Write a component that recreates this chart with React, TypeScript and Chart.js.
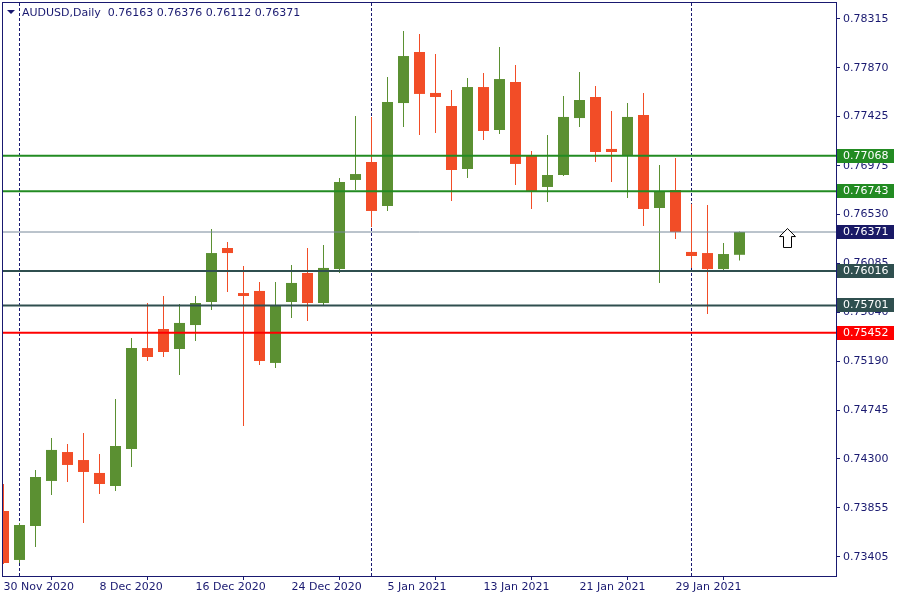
import React, { useEffect, useRef } from "react";
import { Chart, registerables } from "chart.js";

Chart.register(...registerables);

const symbol = "AUDUSD";
const timeframe = "Daily";

const dates = [
  "30 Nov 2020", "1 Dec 2020", "2 Dec 2020", "3 Dec 2020", "4 Dec 2020", "7 Dec 2020", "8 Dec 2020",
  "9 Dec 2020", "10 Dec 2020", "11 Dec 2020", "14 Dec 2020", "15 Dec 2020", "16 Dec 2020", "17 Dec 2020",
  "18 Dec 2020", "21 Dec 2020", "22 Dec 2020", "23 Dec 2020", "24 Dec 2020", "28 Dec 2020", "29 Dec 2020",
  "30 Dec 2020", "31 Dec 2020", "4 Jan 2021", "5 Jan 2021", "6 Jan 2021", "7 Jan 2021", "8 Jan 2021",
  "11 Jan 2021", "12 Jan 2021", "13 Jan 2021", "14 Jan 2021", "15 Jan 2021", "18 Jan 2021", "19 Jan 2021",
  "20 Jan 2021", "21 Jan 2021", "22 Jan 2021", "25 Jan 2021", "26 Jan 2021", "27 Jan 2021", "28 Jan 2021",
  "29 Jan 2021", "1 Feb 2021", "2 Feb 2021", "3 Feb 2021", "4 Feb 2021",
];

const opens = [
  0.73825, 0.73378, 0.73688, 0.74099, 0.74363, 0.7429, 0.74172, 0.74053, 0.74391, 0.75312,
  0.75486, 0.75303, 0.75522, 0.75732, 0.76225, 0.75814, 0.75833, 0.75176, 0.75732, 0.75997,
  0.75723, 0.76033, 0.76846, 0.7701, 0.76608, 0.77548, 0.78014, 0.7764, 0.77521, 0.76946,
  0.77694, 0.77302, 0.7774, 0.77074, 0.76782, 0.76891, 0.77411, 0.77603, 0.77129, 0.77074,
  0.77439, 0.7659, 0.76754, 0.76189, 0.76179, 0.76033, 0.76163,
];
const highs = [
  0.74071, 0.73715, 0.74199, 0.74491, 0.74436, 0.74537, 0.74345, 0.74847, 0.75404, 0.75723,
  0.75787, 0.75714, 0.75787, 0.76398, 0.7628, 0.76061, 0.75915, 0.75915, 0.7607, 0.76225,
  0.76252, 0.76864, 0.7743, 0.77421, 0.77786, 0.78205, 0.78178, 0.77996, 0.77667, 0.77777,
  0.77822, 0.78059, 0.77895, 0.7711, 0.77256, 0.77612, 0.77831, 0.77704, 0.77475, 0.77548,
  0.7764, 0.76983, 0.77046, 0.76627, 0.76617, 0.76271, 0.76376,
];
const lows = [
  0.73341, 0.7335, 0.73496, 0.73971, 0.74089, 0.73715, 0.7398, 0.74007, 0.74226, 0.75194,
  0.7523, 0.75066, 0.75376, 0.75659, 0.75824, 0.74601, 0.75157, 0.7513, 0.75586, 0.75559,
  0.75705, 0.75997, 0.76754, 0.76417, 0.76563, 0.77329, 0.77256, 0.77275, 0.76654, 0.76864,
  0.77211, 0.77265, 0.768, 0.76581, 0.76645, 0.76882, 0.77329, 0.7701, 0.76827, 0.76681,
  0.76426, 0.75906, 0.76307, 0.76043, 0.75623, 0.76006, 0.76112,
];
const closes = [
  0.7335, 0.73697, 0.74135, 0.74382, 0.74245, 0.74181, 0.74071, 0.74418, 0.75312, 0.7523,
  0.75276, 0.75541, 0.75723, 0.76179, 0.76179, 0.75787, 0.75194, 0.75705, 0.75906, 0.75723,
  0.76043, 0.76827, 0.769, 0.76563, 0.77558, 0.77977, 0.77631, 0.77603, 0.76937, 0.77694,
  0.77293, 0.77767, 0.76992, 0.76736, 0.76891, 0.77421, 0.77576, 0.77101, 0.77101, 0.77421,
  0.76581, 0.76736, 0.76371, 0.76152, 0.76033, 0.7617, 0.76371,
];

const xTickLabels = [
  "30 Nov 2020", "8 Dec 2020", "16 Dec 2020", "24 Dec 2020",
  "5 Jan 2021", "13 Jan 2021", "21 Jan 2021", "29 Jan 2021",
];
const yTickValues = [
  0.78315, 0.7787, 0.77425, 0.76975, 0.7653, 0.76085, 0.7564, 0.7519, 0.74745, 0.743, 0.73855, 0.73405,
];

const levelPrices = [0.77068, 0.76743, 0.76016, 0.75701, 0.75452];
const levelColors = ["#228B22", "#228B22", "#2F4F4F", "#2F4F4F", "#FF0000"];

const arrowBar = 49;
const arrowPrice = 0.76316;

// view window
const xMin = -0.03125;
const xMax = 52.03125;
const yMin = 0.732316;
const yMax = 0.784701;

const BULL = "#5b9032";
const BEAR = "#f24d27";
const AXIS = "#191970";
const FONT = "DejaVu Sans";

export default function App() {
  const ref = useRef<HTMLCanvasElement>(null);

  useEffect(() => {
    document.body.style.margin = "0";
    const canvas = ref.current;
    if (!canvas) return;

    const n = dates.length;
    const isBull = (i: number) => closes[i] >= opens[i];
    const candleColor = (ctx: any) => (isBull(ctx.dataIndex) ? BULL : BEAR);

    // month separators: first bar of each new month
    const monthOf = (d: string) => d.split(" ").slice(1).join(" ");
    const separators: number[] = [];
    for (let i = 1; i < n; i++) if (monthOf(dates[i]) !== monthOf(dates[i - 1])) separators.push(i);

    const xTickIdx = xTickLabels.map((l) => dates.indexOf(l));

    // arrow icon
    const arrow = document.createElement("canvas");
    arrow.width = 17;
    arrow.height = 20;
    const a = arrow.getContext("2d")!;
    a.beginPath();
    a.moveTo(8.5, 0.5);
    a.lineTo(16.5, 8.5);
    a.lineTo(12.5, 8.5);
    a.lineTo(12.5, 19.5);
    a.lineTo(4.5, 19.5);
    a.lineTo(4.5, 8.5);
    a.lineTo(0.5, 8.5);
    a.closePath();
    a.fillStyle = "#ffffff";
    a.fill();
    a.strokeStyle = "#000000";
    a.lineWidth = 1;
    a.stroke();

    const datasets: any[] = [];

    separators.forEach((s) => {
      datasets.push({
        type: "line",
        data: [
          { x: s, y: yMin },
          { x: s, y: yMax },
        ],
        borderColor: AXIS,
        borderWidth: 1,
        borderDash: [3, 2],
        pointRadius: 0,
        order: 20,
      });
    });

    datasets.push({
      type: "bar",
      data: dates.map((_, i) => ({ x: i, y: [lows[i], highs[i]] })),
      backgroundColor: candleColor,
      borderWidth: 0,
      borderSkipped: false,
      inflateAmount: 0,
      barThickness: 1,
      grouped: false,
      order: 10,
    });
    datasets.push({
      type: "bar",
      data: dates.map((_, i) => ({ x: i, y: [opens[i], closes[i]] })),
      backgroundColor: candleColor,
      borderWidth: 0,
      borderSkipped: false,
      inflateAmount: 0,
      barThickness: 11,
      minBarLength: 1,
      grouped: false,
      order: 9,
    });

    datasets.push({
      type: "line",
      data: [
        { x: xMin, y: closes[n - 1] },
        { x: xMax, y: closes[n - 1] },
      ],
      borderColor: "#778899",
      borderWidth: 1,
      pointRadius: 0,
      order: 5,
    });

    levelPrices.forEach((p, k) => {
      datasets.push({
        type: "line",
        data: [
          { x: xMin, y: p },
          { x: xMax, y: p },
        ],
        borderColor: levelColors[k],
        borderWidth: 2,
        pointRadius: 0,
        order: 4,
      });
    });

    datasets.push({
      type: "line",
      data: [{ x: arrowBar, y: arrowPrice }],
      showLine: false,
      pointStyle: arrow,
      pointRadius: 10,
      order: 1,
    });

    const overlay = {
      id: "mt4overlay",
      afterDraw(chart: any) {
        const ctx = chart.ctx;
        const area = chart.chartArea;
        const ys = chart.scales.y;
        ctx.save();
        // frame
        ctx.strokeStyle = AXIS;
        ctx.lineWidth = 1;
        ctx.strokeRect(area.left - 0.5, area.top + 0.5, area.right - area.left + 1, area.bottom - area.top);
        // title
        ctx.fillStyle = AXIS;
        ctx.beginPath();
        ctx.moveTo(7, 10);
        ctx.lineTo(15, 10);
        ctx.lineTo(11, 14);
        ctx.closePath();
        ctx.fill();
        ctx.font = `11px "${FONT}"`;
        ctx.textBaseline = "middle";
        ctx.textAlign = "left";
        const last = n - 1;
        const title = `${symbol},${timeframe}  ${opens[last].toFixed(5)} ${highs[last].toFixed(5)} ${lows[last].toFixed(5)} ${closes[last].toFixed(5)}`;
        ctx.fillText(title, 22, 13);
        // price boxes
        const boxes = levelPrices.map((p, k) => ({ p, c: levelColors[k] }));
        boxes.push({ p: closes[last], c: "#191966" });
        boxes.forEach((b) => {
          const py = ys.getPixelForValue(b.p);
          ctx.fillStyle = b.c;
          ctx.fillRect(area.right + 1, Math.round(py) - 7, 57, 14);
          ctx.fillStyle = "#ffffff";
          ctx.fillText(b.p.toFixed(5), area.right + 7, Math.round(py) + 0.5);
        });
        ctx.restore();
      },
    };

    const zeroPad = (s: any) => {
      s.paddingLeft = 0;
      s.paddingRight = 0;
      s.paddingTop = 0;
      s.paddingBottom = 0;
    };

    const chart = new Chart(canvas, {
      type: "bar",
      data: { datasets },
      plugins: [overlay],
      options: {
        animation: false,
        responsive: false,
        devicePixelRatio: 1,
        layout: { autoPadding: false, padding: { left: 3, top: 2, right: 0, bottom: 0 } },
        plugins: { legend: { display: false }, tooltip: { enabled: false } },
        scales: {
          x: {
            type: "linear",
            min: xMin,
            max: xMax,
            offset: false,
            grid: { drawOnChartArea: false, drawTicks: true, tickLength: 4, color: AXIS },
            border: { display: false },
            ticks: {
              autoSkip: false,
              maxRotation: 0,
              align: "start",
              padding: 1,
              color: AXIS,
              font: { family: FONT, size: 11 },
              callback: (v: any) => dates[Math.round(Number(v))] ?? "",
            },
            afterBuildTicks: (s: any) => {
              s.ticks = xTickIdx.map((v) => ({ value: v }));
            },
            afterFit: (s: any) => {
              s.height = 24;
              zeroPad(s);
            },
          },
          y: {
            type: "linear",
            position: "right",
            min: yMin,
            max: yMax,
            grid: { drawOnChartArea: false, drawTicks: true, tickLength: 4, color: AXIS },
            border: { display: false },
            ticks: {
              padding: 3,
              color: AXIS,
              font: { family: FONT, size: 11 },
              callback: (v: any) => Number(v).toFixed(5),
            },
            afterBuildTicks: (s: any) => {
              s.ticks = yTickValues.map((v) => ({ value: v }));
            },
            afterFit: (s: any) => {
              s.width = 64;
              zeroPad(s);
            },
          },
        },
      } as any,
    });

    return () => chart.destroy();
  }, []);

  return (
    <div style={{ position: "absolute", left: 0, top: 0, width: 900, height: 600, background: "#ffffff" }}>
      <canvas ref={ref} width={900} height={600} style={{ display: "block" }} />
    </div>
  );
}
